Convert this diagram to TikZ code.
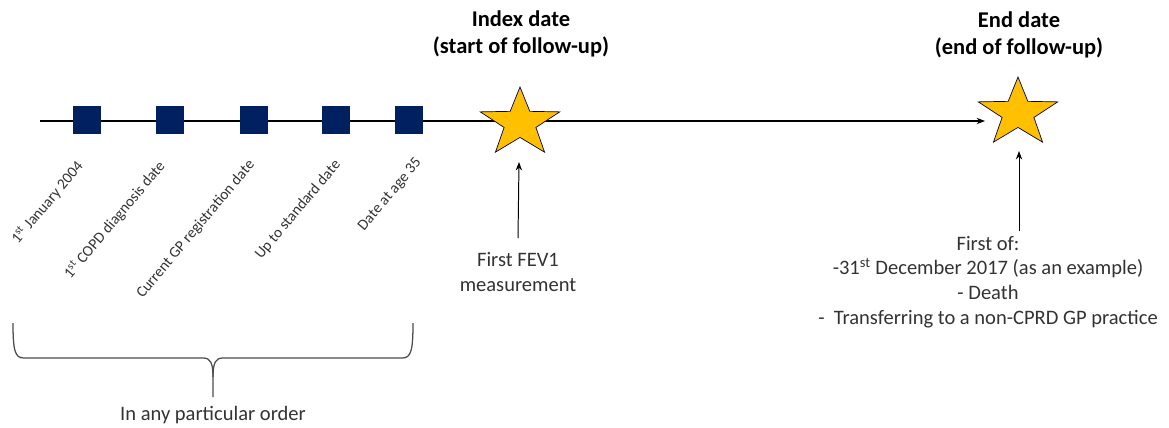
\documentclass[tikz,border=0pt]{standalone}
\usepackage{fontspec}
\setmainfont{Carlito}
\usetikzlibrary{shapes,positioning,arrows.meta}
\tikzset{>={Stealth[length=6pt,width=4.5pt]}}
\colorlet{background}{white}
\colorlet{penColor}{black!80}
\definecolor{boxColor}{HTML}{002060}
\definecolor{starColor}{HTML}{FFC000}
\tikzset{
  datebox/.style={fill=boxColor, inner sep=0pt, minimum size=0.72cm},
  datestar/.style={star, star points=5, star point ratio=2.5, fill=starColor,
    draw=black!70!blue, line width=0.5pt, inner sep=0pt, minimum size=1.8cm, xscale=1.16},
  datelabel/.style={anchor=east, rotate=50, inner sep=1pt, penColor, font=\fontsize{10.9}{12}\selectfont},
  headline/.style={align=center, font=\fontsize{16}{19.5}\selectfont\bfseries},
  note/.style={align=center, penColor, font=\fontsize{14.6}{17.5}\selectfont}
}

\begin{document}
\begin{tikzpicture}[x=0.025cm, y=-0.025cm]
\useasboundingbox[fill=background] (0,0) rectangle (1169,427);
% time line
\coordinate (tl) at (40,121);
\coordinate (tlend) at (985,121);
\draw[->, line width=0.8pt] (tl) -- (tlend);
% dates before the index date
\node[datebox] (d1) at (87,120) {};
\node[datebox] (d2) at (170,120) {};
\node[datebox] (d3) at (254,120) {};
\node[datebox] (d4) at (336,120) {};
\node[datebox] (d5) at (409,120) {};
\node[datelabel] (l1) at (81,162) {1\textsuperscript{st} January 2004};
\node[datelabel] (l2) at (163,162) {1\textsuperscript{st} COPD diagnosis date};
\node[datelabel] (l3) at (253,161) {Current GP registration date};
\node[datelabel] (l4) at (339,161) {Up to standard date};
\node[datelabel] (l5) at (420,159) {Date at age 35};
% index and end date
\node[datestar] (star1) at (520,123) {};
\node[datestar] (star2) at (1018,113) {};
\node[headline] (index) at (521,34) {Index date\\(start of follow-up)};
\node[headline] (enddate) at (1019,35) {End date\\(end of follow-up)};
\node[note, outer sep=7pt] (fev) at (518,272) {First FEV1\\measurement};
\node[note] (firstof) at (988,282) {First of:\\-31\textsuperscript{st} December 2017 (as an example)\\- Death\\-\ \ Transferring to a non-CPRD GP practice};
\coordinate (tip1) at (519,162);
\coordinate (tip2) at (1019,151);
\draw[->, line width=0.7pt] (fev.north) -- (tip1);
\draw[->, line width=0.7pt] (firstof.north -| tip2) -- (tip2);
% brace
\draw[black!70, line width=0.9pt] (13,323) .. controls (13,351) and (15,358) .. (24,358) -- (203,358)
  .. controls (210,358) and (213,362) .. (213,377) -- (213,397);
\draw[black!70, line width=0.9pt] (413,323) .. controls (413,351) and (411,358) .. (402,358) -- (223,358)
  .. controls (216,358) and (213,362) .. (213,377);
\node[note] (order) at (213,415) {In any particular order};
\end{tikzpicture}
\end{document}
